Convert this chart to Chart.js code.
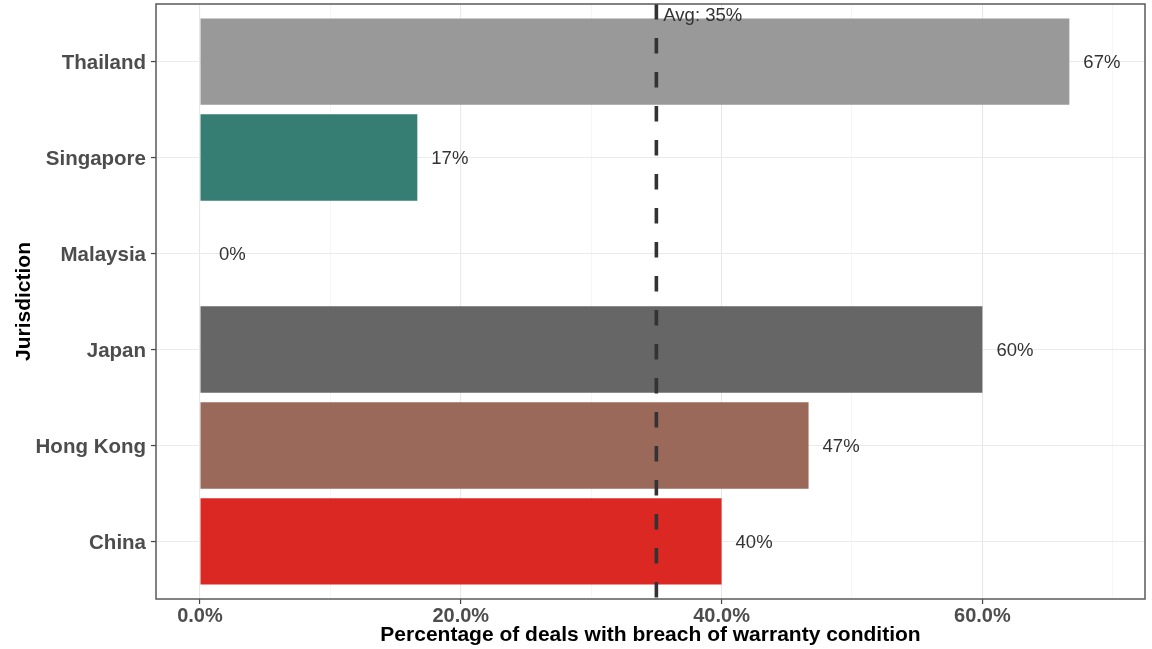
<!DOCTYPE html>
<html>
<head>
<meta charset="utf-8">
<title>Breach of warranty condition by jurisdiction</title>
<script src="https://cdn.jsdelivr.net/npm/chart.js@4.4.1/dist/chart.umd.min.js"></script>
<style>
  html, body { margin: 0; padding: 0; background: #ffffff; }
  canvas { display: block; }
</style>
</head>
<body>
<canvas id="chart" width="1152" height="649"></canvas>
<script>
// Jurisdictions, bottom to top
const categories = ['China', 'Hong Kong', 'Japan', 'Malaysia', 'Singapore', 'Thailand'];
// Share of deals with a breach of warranty condition (%)
const shares = [40, 46.67, 60, 0, 16.67, 66.67];
const valueLabels = ['40%', '47%', '60%', '0%', '17%', '67%'];
const barColors = ['#dc2822', '#9a6959', '#666666', '#b3b3b3', '#367d74', '#999999'];

// Average across jurisdictions
const averageShare = 35;
const averageLabel = 'Avg: 35%';

// X axis ticks
const xMajorTicks = [0, 20, 40, 60];
const xTickLabels = ['0.0%', '20.0%', '40.0%', '60.0%'];
const xMinorTicks = [10, 30, 50, 70];

const FONT = 'Liberation Sans, Arial, Helvetica, sans-serif';

const isMajor = v => xMajorTicks.includes(v);

const overlayPlugin = {
  id: 'overlay',
  afterDatasetsDraw(chart) {
    const { ctx, chartArea: a, scales: { x, y } } = chart;
    ctx.save();

    // dashed average line
    const ax = x.getPixelForValue(averageShare);
    ctx.strokeStyle = '#333333';
    ctx.lineWidth = 3.6;
    ctx.setLineDash([15.5, 18.5]);
    ctx.beginPath();
    ctx.moveTo(ax, a.top);
    ctx.lineTo(ax, a.bottom);
    ctx.stroke();
    ctx.setLineDash([]);

    // average label
    ctx.fillStyle = '#333333';
    ctx.font = '18.5px ' + FONT;
    ctx.textAlign = 'left';
    ctx.textBaseline = 'alphabetic';
    ctx.fillText(averageLabel, ax + 7, a.top + 16.5);

    // value labels at bar ends
    ctx.textBaseline = 'middle';
    shares.forEach((v, i) => {
      const px = x.getPixelForValue(v) + (v > 0 ? 14 : 19);
      const py = y.getPixelForValue(i);
      ctx.fillText(valueLabels[i], px, py + 1);
    });

    // panel border
    ctx.strokeStyle = '#5a5a5a';
    ctx.lineWidth = 1.5;
    ctx.strokeRect(a.left, a.top, a.right - a.left, a.bottom - a.top);
    ctx.restore();
  }
};

new Chart(document.getElementById('chart'), {
  type: 'bar',
  data: {
    datasets: [{
      data: categories.map((c, i) => ({ x: shares[i], y: i })),
      backgroundColor: barColors,
      borderWidth: 0,
      barPercentage: 0.9,
      categoryPercentage: 1
    }]
  },
  options: {
    indexAxis: 'y',
    responsive: false,
    animation: false,
    devicePixelRatio: 1,
    layout: { padding: { left: 0, right: 7, top: 4, bottom: 0 } },
    plugins: {
      legend: { display: false },
      tooltip: { enabled: false }
    },
    scales: {
      x: {
        type: 'linear',
        position: 'bottom',
        min: -3.37,
        max: 72.47,
        afterBuildTicks: s => {
          s.ticks = [...xMajorTicks, ...xMinorTicks].sort((p, q) => p - q).map(v => ({ value: v }));
        },
        afterFit: s => { s.height = 50; s.paddingLeft = 0; s.paddingRight = 0; },
        border: { display: false },
        grid: {
          color: c => (c.tick && isMajor(c.tick.value)) ? '#e8e8e8' : '#f2f2f2',
          lineWidth: c => (c.tick && isMajor(c.tick.value)) ? 1.1 : 0.7,
          tickLength: 5,
          tickColor: c => (c.tick && isMajor(c.tick.value)) ? '#444444' : 'rgba(0,0,0,0)',
          tickWidth: 1.2
        },
        ticks: {
          autoSkip: false,
          maxRotation: 0,
          padding: 0,
          color: '#4d4d4d',
          font: { family: FONT, size: 20, weight: 'bold' },
          callback: v => {
            const k = xMajorTicks.indexOf(v);
            return k >= 0 ? xTickLabels[k] : '';
          }
        },
        title: {
          display: true,
          text: 'Percentage of deals with breach of warranty condition',
          color: '#000000',
          font: { family: FONT, size: 21, weight: 'bold' },
          padding: { top: 0, bottom: 1 }
        }
      },
      y: {
        type: 'linear',
        min: -0.6,
        max: 5.6,
        offset: false,
        afterBuildTicks: s => {
          s.ticks = categories.map((c, i) => ({ value: i }));
        },
        afterFit: s => { s.width = 156; s.paddingTop = 0; s.paddingBottom = 0; },
        border: { display: false },
        grid: {
          offset: false,
          color: '#ebebeb',
          lineWidth: 1.1,
          tickLength: 5,
          tickColor: '#444444',
          tickWidth: 1.2
        },
        ticks: {
          autoSkip: false,
          padding: 5,
          labelOffset: 2,
          color: '#4d4d4d',
          font: { family: FONT, size: 20.5, weight: 'bold' },
          callback: v => categories[v]
        },
        title: {
          display: true,
          text: 'Jurisdiction',
          color: '#000000',
          font: { family: FONT, size: 21, weight: 'bold' },
          padding: { top: 12, bottom: 0 }
        }
      }
    }
  },
  plugins: [overlayPlugin]
});
</script>
</body>
</html>
